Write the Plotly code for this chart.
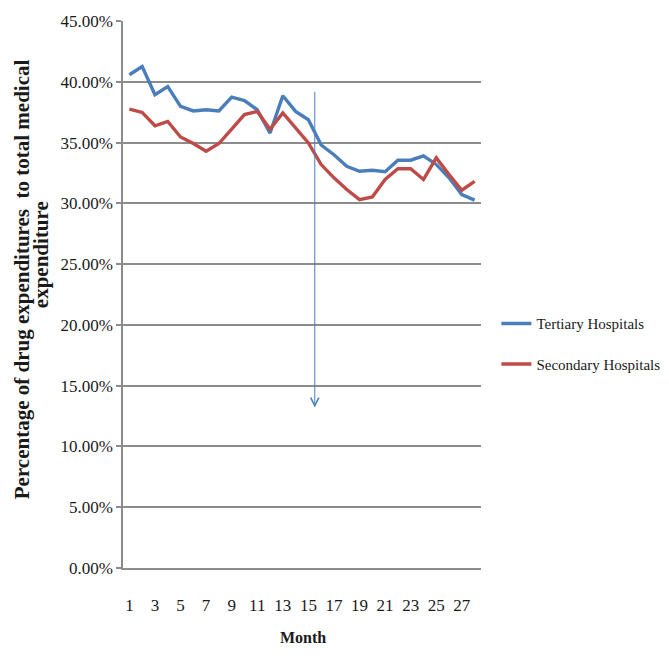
import plotly.graph_objects as go

months = list(range(1, 29))
tertiary = [40.58, 41.26, 38.93, 39.60, 37.97, 37.60, 37.70, 37.60, 38.74, 38.46,
            37.70, 35.78, 38.85, 37.56, 36.88, 34.80, 34.00, 33.04, 32.64, 32.72,
            32.60, 33.55, 33.55, 33.90, 33.20, 32.10, 30.72, 30.26]
secondary = [37.75, 37.48, 36.38, 36.74, 35.46, 34.92, 34.29, 34.92, 36.10, 37.30,
             37.56, 36.10, 37.43, 36.20, 34.97, 33.19, 32.10, 31.14, 30.31, 30.53,
             31.96, 32.84, 32.84, 31.96, 33.74, 32.37, 31.08, 31.80]
tertiary = [v / 100 for v in tertiary]
secondary = [v / 100 for v in secondary]
x_ticks = list(range(1, 28, 2))
y_ticks = [i * 0.05 for i in range(10)]
arrow_x = 15.5
arrow_top = 0.393
arrow_bottom = 0.132
y_title_1 = "Percentage of drug expenditures  to total medical"
y_title_2 = "expenditure"
x_title = "Month"

font = "Liberation Serif"
txt = "#1a1a1a"
fig = go.Figure()
fig.add_trace(go.Scatter(x=months, y=tertiary, mode="lines", name="Tertiary Hospitals",
                         line=dict(color="#4a7ebb", width=3.4), legendgroup="a"))
fig.add_trace(go.Scatter(x=months, y=secondary, mode="lines", name="Secondary Hospitals",
                         line=dict(color="#be4b48", width=3.4), legendgroup="b"))

fig.add_annotation(x=arrow_x, y=arrow_bottom, ax=arrow_x, ay=arrow_top,
                   xref="x", yref="y", axref="x", ayref="y", text="",
                   showarrow=True, arrowhead=5, arrowsize=1.6, arrowwidth=1,
                   arrowcolor="#4a7ebb")

# y-axis title (two lines placed separately for tight line spacing)
fig.add_annotation(x=-0.282, y=0.528, xref="paper", yref="paper", text="<b>" + y_title_1 + "</b>",
                   textangle=-90, showarrow=False, xanchor="center", yanchor="middle",
                   font=dict(family=font, size=21, color=txt))
fig.add_annotation(x=-0.229, y=0.572, xref="paper", yref="paper", text="<b>" + y_title_2 + "</b>",
                   textangle=-90, showarrow=False, xanchor="center", yanchor="middle",
                   font=dict(family=font, size=21, color=txt))
# x-axis title
fig.add_annotation(x=0.503, y=-0.127, xref="paper", yref="paper", text="<b>" + x_title + "</b>",
                   showarrow=False, xanchor="center", yanchor="middle", borderpad=0,
                   font=dict(family=font, size=16, color=txt))

fig.update_layout(
    width=653, height=640,
    margin=dict(l=115, r=180, t=13, b=80, autoexpand=False),
    paper_bgcolor="white", plot_bgcolor="white",
    font=dict(family=font, size=15, color=txt),
    showlegend=True,
    legend=dict(x=1.043, y=0.41, xanchor="left", yanchor="middle",
                font=dict(family=font, size=15, color=txt),
                tracegroupgap=18, bgcolor="rgba(0,0,0,0)"),
    xaxis=dict(range=[0.5, 28.5], tickvals=x_ticks, showgrid=False, zeroline=False,
               showline=True, linecolor="#8c8c8c", linewidth=1.5, automargin=False,
               ticks="", ticklabelstandoff=21,
               tickfont=dict(family=font, size=17, color=txt)),
    yaxis=dict(range=[0, 0.45], tickvals=y_ticks, tickformat=".2%",
               showgrid=True, gridcolor="#8c8c8c", gridwidth=1.5, zeroline=False,
               showline=True, linecolor="#8c8c8c", linewidth=1.5, automargin=False,
               ticks="outside", ticklen=5, tickcolor="#8c8c8c", tickwidth=1.5,
               tickfont=dict(family=font, size=17, color=txt)),
)
fig.write_html("out.html")
